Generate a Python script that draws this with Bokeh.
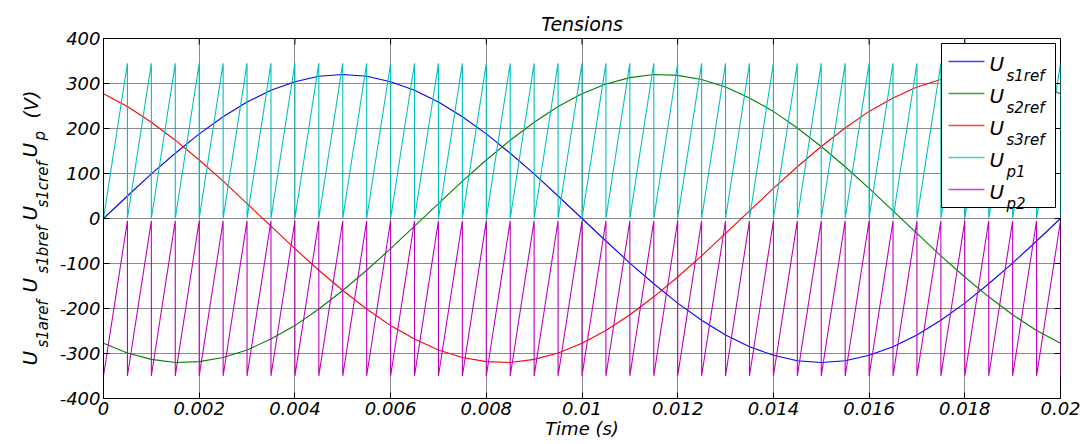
import numpy as np
from bokeh.plotting import figure
from bokeh.layouts import row
from bokeh.models import Range1d, FixedTicker, Label, ColumnDataSource
from bokeh.embed import file_html
from bokeh.resources import INLINE

# ---------------- data ----------------
time_s = np.linspace(0, 0.02, 41)
us1ref = [0, 50, 99, 145, 188, 226, 259, 285, 304, 316, 320, 316, 304, 285, 259, 226,
          188, 145, 99, 50, 0, -50, -99, -145, -188, -226, -259, -285, -304, -316, -320,
          -316, -304, -285, -259, -226, -188, -145, -99, -50, 0]
us2ref = [-277, -299, -313, -320, -318, -309, -292, -268, -238, -201, -160, -115, -67, -17,
          33, 83, 130, 174, 214, 249, 277, 299, 313, 320, 318, 309, 292, 268, 238, 201,
          160, 115, 67, 17, -33, -83, -130, -174, -214, -249, -277]
us3ref = [277, 249, 214, 174, 130, 83, 33, -17, -67, -115, -160, -201, -238, -268, -292,
          -309, -318, -320, -313, -299, -277, -249, -214, -174, -130, -83, -33, 17, 67,
          115, 160, 201, 238, 268, 292, 309, 318, 320, 313, 299, 277]
carrier_period = 0.0005
up1_low, up1_high = 0, 345
up2_low, up2_high = -350, -5

x_ticks = [0, 0.002, 0.004, 0.006, 0.008, 0.01, 0.012, 0.014, 0.016, 0.018, 0.02]
x_tick_labels = ["0", "0.002", "0.004", "0.006", "0.008", "0.01", "0.012", "0.014",
                 "0.016", "0.018", "0.02"]
y_ticks = [-400, -300, -200, -100, 0, 100, 200, 300, 400]
y_tick_labels = ["-400", "-300", "-200", "-100", "0", "100", "200", "300", "400"]

title_text = "Tensions"
xlabel_text = "Time (s)"
legend_subs = ["s1ref", "s2ref", "s3ref", "p1", "p2"]
colors = ["#0000ff", "#008000", "#ff0000", "#00bfbf", "#bf00bf"]


def sawtooth(low, high, t_end=0.02):
    n = int(round(t_end / carrier_period))
    xs, ys = [0.0], [low]
    for k in range(1, n + 1):
        xs += [k * carrier_period, k * carrier_period]
        ys += [high, low]
    return xs, ys


# ---------------- layout ----------------
H = 442
YLAB_W = 50
W_MAIN = 1035
FL, FR, FT, FB = 53, 25, 38, 44
X0_PAGE = YLAB_W + FL            # frame left (page px)
X1_PAGE = YLAB_W + W_MAIN - FR   # frame right (page px)
Y0_PAGE = FT                     # frame top (page px)
Y1_PAGE = H - FB                 # frame bottom (page px)
FONT = "DejaVu Sans"
XMIN, XMAX, YMIN, YMAX = 0.0, 0.02, -400.0, 400.0
TICK_PX = 6

p = figure(width=W_MAIN, height=H, x_range=Range1d(XMIN, XMAX), y_range=Range1d(YMIN, YMAX),
           output_backend="svg", toolbar_location=None,
           min_border_left=FL, min_border_right=FR, min_border_top=FT, min_border_bottom=FB)
p.background_fill_color = "white"
p.border_fill_color = "white"
p.outline_line_color = "black"
p.outline_line_width = 1

p.title.text = title_text
p.title.text_font = FONT
p.title.text_font_style = "italic"
p.title.text_font_size = "19px"
p.title.text_color = "black"
p.title.align = "center"
p.title.standoff = 8


def style_axis(ax, ticks, labels):
    ax.ticker = FixedTicker(ticks=ticks)
    ax.major_label_overrides = {t: l for t, l in zip(ticks, labels)}
    ax.major_tick_in = TICK_PX
    ax.major_tick_out = 0
    ax.minor_tick_in = 0
    ax.minor_tick_out = 0
    ax.axis_line_color = "black"
    ax.major_tick_line_color = "black"
    ax.major_label_text_font = FONT
    ax.major_label_text_font_style = "italic"
    ax.major_label_text_color = "black"
    ax.major_label_text_font_size = "18px"
    ax.major_label_standoff = 3


for ax in p.below:
    style_axis(ax, x_ticks, x_tick_labels)
    ax.axis_label = xlabel_text
    ax.axis_label_text_font = FONT
    ax.axis_label_text_font_style = "italic"
    ax.axis_label_text_font_size = "18px"
    ax.axis_label_text_color = "black"
    ax.axis_label_standoff = 0
for ax in p.left:
    style_axis(ax, y_ticks, y_tick_labels)

p.xgrid.ticker = FixedTicker(ticks=x_ticks)
p.ygrid.ticker = FixedTicker(ticks=y_ticks)
for g in (p.xgrid, p.ygrid):
    g.grid_line_color = "#8a8a8a"
    g.grid_line_width = 1

# ---------------- series ----------------
p.line(time_s, us1ref, line_color=colors[0], line_width=1.1)
p.line(time_s, us2ref, line_color=colors[1], line_width=1.1)
p.line(time_s, us3ref, line_color=colors[2], line_width=1.1)
x1, y1 = sawtooth(up1_low, up1_high)
p.line(x1, y1, line_color=colors[3], line_width=1.1)
x2, y2 = sawtooth(up2_low, up2_high)
p.line(x2, y2, line_color=colors[4], line_width=1.1)

# ---------------- top / right inward ticks (box style) ----------------
ppx_x = (XMAX - XMIN) / (X1_PAGE - X0_PAGE)   # data per pixel
ppx_y = (YMAX - YMIN) / (Y1_PAGE - Y0_PAGE)
p.multi_line(xs=[[t, t] for t in x_ticks], ys=[[YMAX, YMAX - TICK_PX * ppx_y] for _ in x_ticks],
             line_color="black", line_width=1)
p.multi_line(xs=[[XMAX, XMAX - TICK_PX * ppx_x] for _ in y_ticks], ys=[[v, v] for v in y_ticks],
             line_color="black", line_width=1)


# ---------------- legend (page px -> data) ----------------
def dx(px):
    return XMIN + (px - X0_PAGE) * ppx_x


def dy(py):
    return YMIN + (Y1_PAGE - py) * ppx_y


p.quad(left=[dx(941)], right=[dx(1055)], top=[dy(43)], bottom=[dy(207)],
       fill_color="white", line_color="black", line_width=1)
entry_y = [61, 93, 125, 157, 189]
leg_src = ColumnDataSource(data=dict(
    xs=[[dx(948), dx(984)] for _ in entry_y],
    ys=[[dy(yc), dy(yc)] for yc in entry_y],
    color=colors,
))
p.multi_line(xs="xs", ys="ys", line_color="color", line_width=1.6, line_alpha=0.75,
             source=leg_src)
for sub, yc in zip(legend_subs, entry_y):
    for txt, px, py, size in [("U", 989, yc + 2, 20), (sub, 1006, yc + 14, 15)]:
        p.add_layout(Label(x=dx(px), y=dy(py), text=txt, text_font=FONT,
                           text_font_style="italic", text_font_size=f"{size}px",
                           text_color="black", text_align="left",
                           text_baseline="alphabetic"))

# ---------------- rotated y label in its own strip ----------------
# (the strip's frame is aligned with the main frame, so its y range spans the frame rows)
yfig = figure(width=YLAB_W, height=H, x_range=Range1d(0, YLAB_W),
              y_range=Range1d(Y1_PAGE, Y0_PAGE),
              output_backend="svg", toolbar_location=None, title=None,
              x_axis_location=None, y_axis_location=None,
              min_border_left=0, min_border_right=0, min_border_top=0, min_border_bottom=0)
yfig.outline_line_color = None
yfig.grid.visible = False
yfig.background_fill_color = "white"
yfig.border_fill_color = "white"

rot = np.pi / 2
ypieces = [("U", 365, 29, 20), ("s1aref", 347, 42, 15),
           ("U", 292, 29, 20), ("s1bref", 273, 42, 15),
           ("U", 220, 29, 20), ("s1cref", 207, 42, 15),
           ("U", 157, 29, 20), ("p", 140, 39, 15),
           ("(V)", 118, 30, 19)]
for txt, py, bx, size in ypieces:
    yfig.add_layout(Label(x=bx, y=py, text=txt, text_font=FONT, text_font_style="italic",
                          text_font_size=f"{size}px", text_color="black",
                          text_align="left", text_baseline="alphabetic", angle=rot))

layout = row(yfig, p, spacing=0)
open("out.html", "w").write(file_html(layout, INLINE))
